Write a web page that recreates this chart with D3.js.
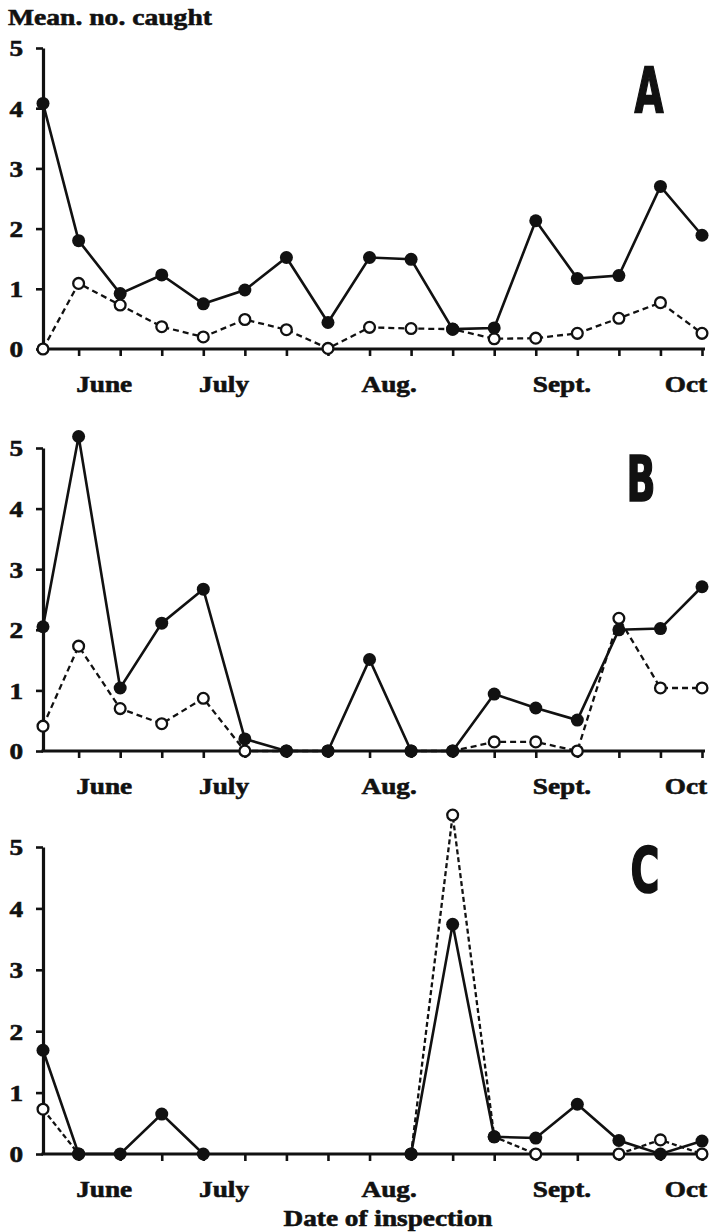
<!DOCTYPE html>
<html>
<head>
<meta charset="utf-8">
<script src="https://cdn.jsdelivr.net/npm/d3@7"></script>
<style>
  html, body { margin: 0; padding: 0; background: #ffffff; }
  svg { display: block; }
</style>
</head>
<body>
<svg id="chart" width="710" height="1232"></svg>
<script>
// ---------------- DATA ----------------
// inspection dates, as days after the first inspection
const inspectionDays = [0, 6, 13, 20, 27, 34, 41, 48, 55, 62, 69, 76, 83, 90, 97, 104, 111];
// month labels and where (in days) they are centred
const monthLabels = ["June", "July", "Aug.", "Sept.", "Oct"];
const monthLabelDays = [10.3, 30.5, 58.3, 87.4, 108.3];
const yTickValues = [0, 1, 2, 3, 4, 5];

// Panel A
const solidA = [4.08, 1.80, 0.92, 1.23, 0.75, 0.98, 1.52, 0.44, 1.52, 1.49, 0.33, 0.35, 2.13, 1.17, 1.22, 2.70, 1.89];
const openA  = [0.00, 1.09, 0.73, 0.37, 0.20, 0.49, 0.32, 0.01, 0.36, 0.34, 0.33, 0.17, 0.18, 0.26, 0.51, 0.77, 0.26];
// Panel B
const solidB = [2.05, 5.19, 1.04, 2.11, 2.67, 0.20, 0.00, 0.00, 1.51, 0.00, 0.00, 0.94, 0.71, 0.51, 2.00, 2.02, 2.71];
const openB  = [0.41, 1.73, 0.70, 0.45, 0.87, 0.00, 0.00, 0.00, null, 0.00, 0.00, 0.15, 0.15, 0.00, 2.19, 1.04, 1.04];
// Panel C
const solidC = [1.69, 0.00, 0.00, 0.65, 0.00, null, null, null, null, 0.00, 3.74, 0.28, 0.26, 0.81, 0.22, 0.00, 0.21];
const openC  = [0.73, 0.00, null, null, null, null, null, null, null, 0.00, 5.52, 0.28, 0.00, null, 0.00, 0.23, 0.00];

const panelNames = ["A", "B", "C"];

// ---------------- LAYOUT ----------------
const layout = [
  { top: 48,  bottom: 349,  labelCx: 649, labelBase: 112, dash: "6,4" },
  { top: 448, bottom: 751,  labelCx: 641, labelBase: 501, dash: "6,4" },
  { top: 847, bottom: 1154, labelCx: 645, labelBase: 892, dash: "5,3" }
];
const seriesSolid = [solidA, solidB, solidC];
const seriesOpen = [openA, openB, openC];

const serif = "'Liberation Serif', 'Times New Roman', 'DejaVu Serif', serif";
const ink = "#111";
const sx = 1.16; // horizontal stretch of the printed type

const svg = d3.select("#chart");
const x = d3.scaleLinear().domain([0, 111]).range([43, 702]);

function heavy(sel) {
  return sel.attr("fill", ink).attr("stroke", ink).attr("stroke-width", 0.6);
}

// y-axis title
heavy(svg.append("text")
  .attr("transform", "translate(8,25) scale(1.15,1)")
  .attr("font-family", serif).attr("font-weight", "bold").attr("font-size", 24))
  .text("Mean. no. caught");

layout.forEach((L, p) => {
  const y = d3.scaleLinear().domain([0, 5]).range([L.bottom, L.top]);
  const g = svg.append("g");

  // Y axis
  const yAxis = d3.axisLeft(y).tickValues(yTickValues).tickSize(7).tickSizeOuter(0).tickFormat(d3.format("d"));
  const ya = g.append("g").attr("transform", `translate(${x(0)},0)`).call(yAxis);
  ya.select(".domain").attr("stroke", ink).attr("stroke-width", 3.2);
  ya.selectAll(".tick line").attr("stroke", ink).attr("stroke-width", 2.6);
  heavy(ya.selectAll(".tick text")
    .attr("font-family", serif).attr("font-weight", "bold").attr("font-size", 23.5)
    .attr("x", -20 / sx)
    .attr("dy", "0.34em")
    .attr("transform", `scale(${sx},1)`));

  // X axis
  const xAxis = d3.axisBottom(x).tickValues(inspectionDays.slice(1)).tickSize(7).tickSizeOuter(0).tickFormat("");
  const xa = g.append("g").attr("transform", `translate(0,${y(0)})`).call(xAxis);
  xa.select(".domain").remove();
  xa.selectAll(".tick line").attr("stroke", ink).attr("stroke-width", 2.6);
  xa.append("line")
    .attr("x1", x(0) - 1.6).attr("x2", x(111) + 3)
    .attr("y1", 0).attr("y2", 0)
    .attr("stroke", ink).attr("stroke-width", 3.2);

  // month labels
  heavy(g.selectAll("text.month").data(monthLabels).join("text")
    .attr("class", "month")
    .attr("transform", (d, i) => `translate(${x(monthLabelDays[i])},${y(0) + 43}) scale(${sx},1)`)
    .attr("text-anchor", "middle")
    .attr("font-family", serif).attr("font-weight", "bold").attr("font-size", 23.5))
    .text(d => d);

  // panel letter
  g.append("text")
    .attr("x", L.labelCx).attr("y", L.labelBase)
    .attr("text-anchor", "middle")
    .attr("font-family", "'Liberation Sans Narrow', 'DejaVu Sans Condensed', 'DejaVu Sans', sans-serif")
    .attr("font-weight", "bold").attr("font-size", 62)
    .attr("textLength", 29).attr("lengthAdjust", "spacingAndGlyphs")
    .attr("fill", ink).attr("stroke", ink).attr("stroke-width", 1.6)
    .text(panelNames[p]);

  const solid = inspectionDays.map((d, i) => ({ d, v: seriesSolid[p][i] }));
  const open = inspectionDays.map((d, i) => ({ d, v: seriesOpen[p][i] }));
  const line = d3.line().defined(q => q.v !== null).x(q => x(q.d)).y(q => y(q.v));

  // dashed (open) series
  g.append("path").datum(open).attr("d", line)
    .attr("fill", "none").attr("stroke", ink).attr("stroke-width", 2.3)
    .attr("stroke-dasharray", L.dash);
  // solid (filled) series
  g.append("path").datum(solid).attr("d", line)
    .attr("fill", "none").attr("stroke", ink).attr("stroke-width", 2.6);

  g.selectAll("circle.open").data(open.filter(q => q.v !== null)).join("circle")
    .attr("class", "open")
    .attr("cx", q => x(q.d)).attr("cy", q => y(q.v)).attr("r", 5.4)
    .attr("fill", "#fff").attr("stroke", ink).attr("stroke-width", 2.3);
  g.selectAll("circle.solid").data(solid.filter(q => q.v !== null)).join("circle")
    .attr("class", "solid")
    .attr("cx", q => x(q.d)).attr("cy", q => y(q.v)).attr("r", 6.5)
    .attr("fill", ink);
});

// x-axis title
heavy(svg.append("text")
  .attr("transform", `translate(388,1226) scale(${sx},1)`)
  .attr("text-anchor", "middle")
  .attr("font-family", serif).attr("font-weight", "bold").attr("font-size", 23.5))
  .text("Date of inspection");
</script>
</body>
</html>
